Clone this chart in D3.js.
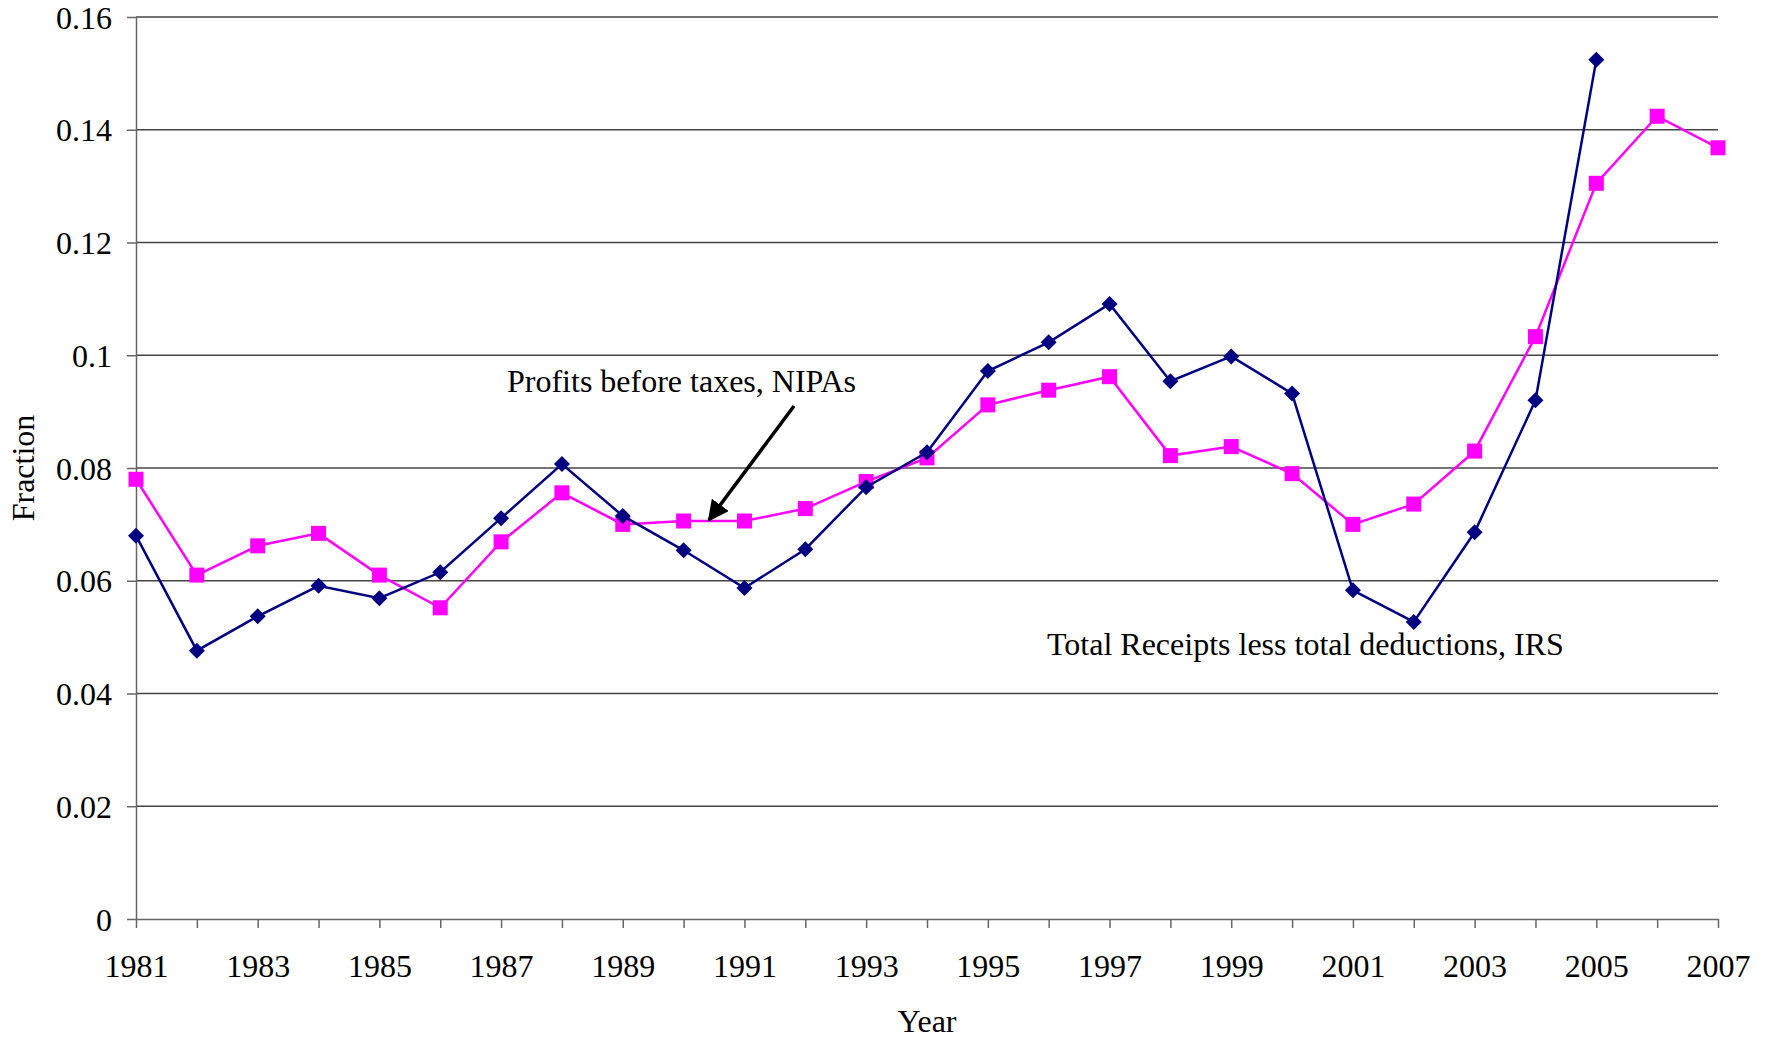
<!DOCTYPE html>
<html>
<head>
<meta charset="utf-8">
<script src="https://cdn.jsdelivr.net/npm/d3@7"></script>
<style>
  body { margin: 0; background: #fff; }
  text { font-family: "Liberation Serif", "Times New Roman", serif; fill: #000; }
</style>
</head>
<body>
<div id="chart"></div>
<script>
// years and the two series
var years = d3.range(1981, 2008);
var irs = [0.068, 0.0476, 0.0537, 0.0591, 0.0569, 0.0615, 0.0711, 0.0807, 0.0715, 0.0654,
           0.0587, 0.0656, 0.0766, 0.0828, 0.0972, 0.1023, 0.1091, 0.0954, 0.0998, 0.0932,
           0.0583, 0.0527, 0.0686, 0.092, 0.1524];
var nipa = [0.078, 0.061, 0.0662, 0.0684, 0.061, 0.0552, 0.0669, 0.0756, 0.07, 0.0706,
            0.0706, 0.0728, 0.0776, 0.0818, 0.0912, 0.0938, 0.0962, 0.0822, 0.0838, 0.079,
            0.07, 0.0736, 0.083, 0.1033, 0.1305, 0.1424, 0.1368];
var yTicks = [0, 0.02, 0.04, 0.06, 0.08, 0.1, 0.12, 0.14, 0.16];

var width = 1772, height = 1039;
var pLeft = 136, pRight = 1718, pTop = 17, pBottom = 919;

var svg = d3.select("#chart").append("svg")
    .attr("width", width)
    .attr("height", height);

var x = d3.scaleLinear().domain([1981, 2007]).range([pLeft, pRight]);
var y = d3.scaleLinear().domain([0, 0.16]).range([pBottom, pTop]);

// gridlines
svg.selectAll(".grid")
    .data(yTicks.slice(1))
    .enter().append("line")
    .attr("x1", pLeft)
    .attr("x2", pRight)
    .attr("y1", function(d){ return y(d); })
    .attr("y2", function(d){ return y(d); })
    .attr("stroke", "#444")
    .attr("stroke-width", 1.3);

// y axis
var yAxis = svg.append("g")
    .attr("transform", "translate(" + pLeft + ",0)")
    .call(d3.axisLeft(y).tickValues(yTicks).tickSize(9).tickSizeOuter(0).tickPadding(15)
        .tickFormat(function(d){ return d === 0 ? "0" : String(+d.toFixed(2)); }));
yAxis.selectAll("text").style("font-size", "32px").attr("dy", "0.35em");

// x axis
var xAxis = svg.append("g")
    .attr("transform", "translate(0," + pBottom + ")")
    .call(d3.axisBottom(x).tickValues(years).tickSize(9).tickSizeOuter(0).tickPadding(26)
        .tickFormat(function(d){ return d % 2 === 1 ? d : ""; }));
xAxis.selectAll("text").style("font-size", "32px");

svg.selectAll(".domain, .tick line")
    .attr("stroke", "#666")
    .attr("stroke-width", 1.5);
svg.selectAll(".tick text").attr("fill", "#000");

// axis titles
svg.append("text")
    .attr("transform", "translate(34,468) rotate(-90)")
    .attr("text-anchor", "middle")
    .style("font-size", "32px")
    .text("Fraction");

svg.append("text")
    .attr("x", 927)
    .attr("y", 1032)
    .attr("text-anchor", "middle")
    .style("font-size", "32px")
    .text("Year");

var line = d3.line()
    .x(function(d, i){ return x(years[i]); })
    .y(function(d){ return y(d); });

// NIPA series, magenta squares
svg.append("path")
    .datum(nipa)
    .attr("d", line)
    .attr("fill", "none")
    .attr("stroke", "#ff00ff")
    .attr("stroke-width", 2.5);

svg.selectAll(".sq")
    .data(nipa)
    .enter().append("rect")
    .attr("x", function(d, i){ return x(years[i]) - 7.5; })
    .attr("y", function(d){ return y(d) - 7.5; })
    .attr("width", 15)
    .attr("height", 15)
    .attr("fill", "#ff00ff");

// IRS series, navy diamonds
svg.append("path")
    .datum(irs)
    .attr("d", line)
    .attr("fill", "none")
    .attr("stroke", "#000080")
    .attr("stroke-width", 2.5);

svg.selectAll(".dm")
    .data(irs)
    .enter().append("path")
    .attr("transform", function(d, i){ return "translate(" + x(years[i]) + "," + y(d) + ")"; })
    .attr("d", "M0,-8L8,0L0,8L-8,0Z")
    .attr("fill", "#000080");

// annotations
svg.append("text")
    .attr("x", 507)
    .attr("y", 392)
    .style("font-size", "32px")
    .text("Profits before taxes, NIPAs");

svg.append("defs").append("marker")
    .attr("id", "arrow")
    .attr("viewBox", "0 0 10 10")
    .attr("refX", 9)
    .attr("refY", 5)
    .attr("markerWidth", 6)
    .attr("markerHeight", 6)
    .attr("markerUnits", "strokeWidth")
    .attr("orient", "auto")
    .append("path")
    .attr("d", "M0,0L10,5L0,10Z")
    .attr("fill", "#000");

svg.append("line")
    .attr("x1", 794)
    .attr("y1", 406)
    .attr("x2", 709)
    .attr("y2", 520)
    .attr("stroke", "#000")
    .attr("stroke-width", 3.5)
    .attr("marker-end", "url(#arrow)");

svg.append("text")
    .attr("x", 1047)
    .attr("y", 655)
    .style("font-size", "32px")
    .text("Total Receipts less total deductions, IRS");
</script>
</body>
</html>
